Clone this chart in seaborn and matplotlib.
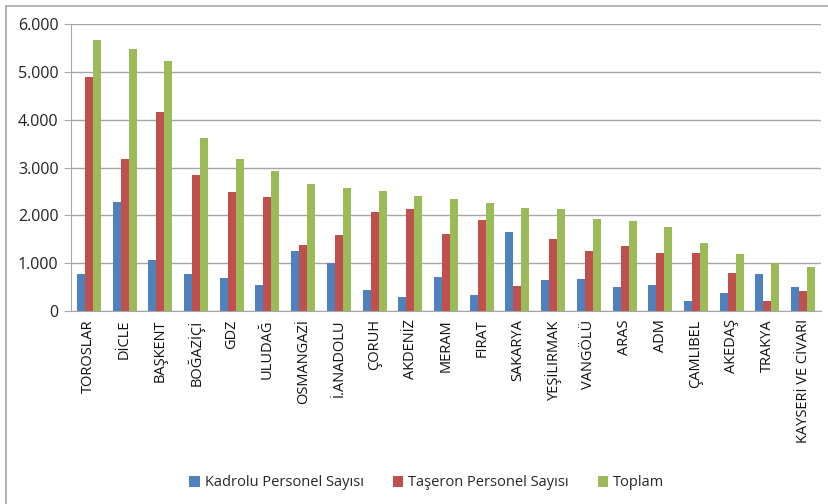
import matplotlib
matplotlib.use("Agg")
import matplotlib.pyplot as plt
from matplotlib.lines import Line2D
import seaborn as sns
import pandas as pd
import numpy as np
from matplotlib.ticker import FuncFormatter, FixedLocator

categories = ["TOROSLAR", "DİCLE", "BAŞKENT", "BOĞAZİÇİ", "GDZ", "ULUDAĞ", "OSMANGAZİ",
              "İ.ANADOLU", "ÇORUH", "AKDENİZ", "MERAM", "FIRAT", "SAKARYA", "YEŞİLIRMAK",
              "VANGÖLÜ", "ARAS", "ADM", "ÇAMLIBEL", "AKEDAŞ", "TRAKYA", "KAYSERİ VE CİVARI"]
kadrolu = [780, 2270, 1070, 765, 700, 535, 1260, 1000, 445, 290, 720, 340, 1650, 640,
           660, 500, 550, 215, 375, 780, 510]
taseron = [4890, 3180, 4160, 2850, 2480, 2390, 1386, 1580, 2060, 2130, 1620, 1900, 520, 1500,
           1260, 1365, 1210, 1210, 800, 215, 420]
toplam = [5670, 5480, 5230, 3620, 3170, 2930, 2660, 2570, 2515, 2410, 2340, 2260, 2160, 2130,
          1915, 1880, 1755, 1420, 1190, 1000, 910]
series = ["Kadrolu Personel Sayısı", "Taşeron Personel Sayısı", "Toplam"]
colors = ["#4F81BD", "#C0504D", "#9BBB59"]

rows = []
for name, vals in zip(series, [kadrolu, taseron, toplam]):
    for c, v in zip(categories, vals):
        rows.append({"Bölge": c, "Seri": name, "Değer": v})
df = pd.DataFrame(rows)

sns.set_style("white")
plt.rcParams['font.family'] = ['Open Sans', 'DejaVu Sans']

fig = plt.figure(figsize=(8.29, 5.04), dpi=100)
ax = fig.add_axes([71/829, 1 - 311/504, (821-71)/829, (311-24)/504])

sns.barplot(data=df, x="Bölge", y="Değer", hue="Seri", palette=colors, width=0.67,
            order=categories, hue_order=series, ax=ax, saturation=1,
            edgecolor="none", linewidth=0)

ax.set_ylim(0, 6000)
ax.set_xlim(-0.5, len(categories) - 0.5)
ax.yaxis.set_major_locator(FixedLocator(np.arange(0, 6001, 1000)))
ax.yaxis.set_major_formatter(FuncFormatter(lambda v, p: f"{int(v):,}".replace(",", ".")))
ax.grid(axis="y", color="#A6A6A6", linewidth=1)
ax.set_axisbelow(True)
for s in ["top", "right"]:
    ax.spines[s].set_visible(False)
ax.spines["left"].set_color("#A6A6A6")
ax.spines["bottom"].set_color("#A6A6A6")
ax.set_xlabel("")
ax.set_ylabel("")
ax.tick_params(axis="y", which="both", left=True, length=5, color="#A6A6A6", labelsize=11.5,
               pad=4, labelcolor="#222222")
ax.set_xticks(range(len(categories)))
ax.set_xticklabels(categories, rotation=90, fontsize=10.5, color="#111111")
ax.tick_params(axis="x", which="major", length=0, pad=6)
ax.set_xticks(np.arange(-0.5, len(categories) + 0.5, 1), minor=True)
ax.tick_params(axis="x", which="minor", length=5, color="#A6A6A6")

leg = ax.legend(loc="center", bbox_to_anchor=(0.515, (504 - 483) / 504), bbox_transform=fig.transFigure,
                ncol=3, frameon=False, fontsize=10.5, handlelength=0.7, handleheight=0.7,
                columnspacing=2.0, handletextpad=0.35)

fig.add_artist(Line2D([6.5/829, 6.5/829], [0, 1 - 5.5/504], transform=fig.transFigure,
                      color="#A6A6A6", linewidth=1.2))
fig.add_artist(Line2D([6.5/829, 1], [1 - 5.5/504, 1 - 5.5/504], transform=fig.transFigure,
                      color="#A6A6A6", linewidth=1.2))

fig.savefig("out.png", dpi=100)
